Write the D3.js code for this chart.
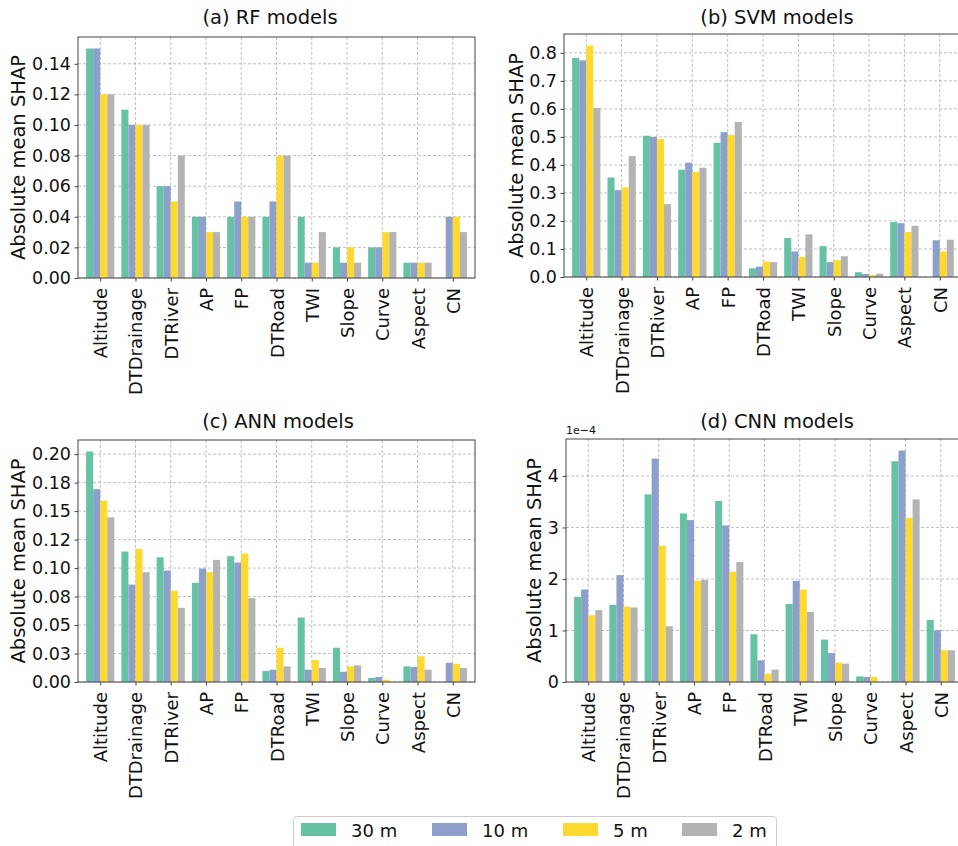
<!DOCTYPE html>
<html>
<head>
<meta charset="utf-8">
<script src="https://cdn.jsdelivr.net/npm/d3@7"></script>
<style>
  body { margin: 0; background: #fff; }
  text { font-family: "DejaVu Sans", sans-serif; fill: #111; }
</style>
</head>
<body>
<div id="chart"></div>
<script>
// categories and series
const features = ["Altitude", "DTDrainage", "DTRiver", "AP", "FP", "DTRoad", "TWI", "Slope", "Curve", "Aspect", "CN"];
const resolutions = ["30 m", "10 m", "5 m", "2 m"];
const colors = ["#66c2a5", "#8da0cb", "#ffd92f", "#b3b3b3"];

// absolute mean SHAP, one row per resolution (30, 10, 5, 2 m)
const rfShap = [
  [0.15, 0.11, 0.06, 0.04, 0.04, 0.04, 0.04, 0.02, 0.02, 0.01, 0.00],
  [0.15, 0.10, 0.06, 0.04, 0.05, 0.05, 0.01, 0.01, 0.02, 0.01, 0.04],
  [0.12, 0.10, 0.05, 0.03, 0.04, 0.08, 0.01, 0.02, 0.03, 0.01, 0.04],
  [0.12, 0.10, 0.08, 0.03, 0.04, 0.08, 0.03, 0.01, 0.03, 0.01, 0.03]
];
const svmShap = [
  [0.782, 0.355, 0.504, 0.383, 0.479, 0.031, 0.139, 0.110, 0.017, 0.196, 0.000],
  [0.773, 0.310, 0.500, 0.408, 0.517, 0.037, 0.091, 0.053, 0.011, 0.192, 0.131],
  [0.826, 0.320, 0.492, 0.375, 0.507, 0.055, 0.072, 0.060, 0.007, 0.161, 0.091],
  [0.603, 0.432, 0.260, 0.390, 0.553, 0.053, 0.152, 0.074, 0.012, 0.183, 0.133]
];
const annShap = [
  [0.2023, 0.1145, 0.1095, 0.0870, 0.1104, 0.0096, 0.0566, 0.0301, 0.0035, 0.0137, 0.0000],
  [0.1693, 0.0855, 0.0978, 0.0996, 0.1048, 0.0108, 0.0108, 0.0090, 0.0044, 0.0131, 0.0169],
  [0.1591, 0.1168, 0.0800, 0.0964, 0.1127, 0.0301, 0.0193, 0.0137, 0.0020, 0.0225, 0.0160],
  [0.1445, 0.0964, 0.0651, 0.1072, 0.0736, 0.0137, 0.0123, 0.0146, 0.0000, 0.0108, 0.0123]
];
// CNN values in units of 1e-4
const cnnShap = [
  [1.653, 1.498, 3.643, 3.274, 3.514, 0.927, 1.517, 0.823, 0.110, 4.285, 1.206],
  [1.796, 2.075, 4.337, 3.144, 3.040, 0.421, 1.964, 0.564, 0.097, 4.493, 1.005],
  [1.297, 1.465, 2.645, 1.964, 2.139, 0.162, 1.796, 0.376, 0.097, 3.183, 0.616],
  [1.394, 1.446, 1.083, 1.984, 2.327, 0.240, 1.361, 0.357, 0.000, 3.546, 0.616]
];

// y tick values and labels
const rfTicks = [0, 0.02, 0.04, 0.06, 0.08, 0.10, 0.12, 0.14];
const rfTickLabels = ["0.00", "0.02", "0.04", "0.06", "0.08", "0.10", "0.12", "0.14"];
const svmTicks = [0, 0.1, 0.2, 0.3, 0.4, 0.5, 0.6, 0.7, 0.8];
const svmTickLabels = ["0.0", "0.1", "0.2", "0.3", "0.4", "0.5", "0.6", "0.7", "0.8"];
const annTicks = [0, 0.025, 0.05, 0.075, 0.1, 0.125, 0.15, 0.175, 0.2];
const annTickLabels = ["0.00", "0.03", "0.05", "0.08", "0.10", "0.12", "0.15", "0.18", "0.20"];
const cnnTicks = [0, 1, 2, 3, 4];
const cnnTickLabels = ["0", "1", "2", "3", "4"];

const width = 958, height = 846;

const svg = d3.select("#chart")
  .append("svg")
    .attr("width", width)
    .attr("height", height);

// panel placement
const panels = [
  {title: "(a) RF models", data: rfShap, ticks: rfTicks, labels: rfTickLabels,
   left: 78, top: 37, right: 475, bottom: 278, titleX: 270, titleY: 24, labelX: 18},
  {title: "(b) SVM models", data: svmShap, ticks: svmTicks, labels: svmTickLabels,
   left: 564, top: 34, right: 962, bottom: 277, titleX: 777, titleY: 24, labelX: 516},
  {title: "(c) ANN models", data: annShap, ticks: annTicks, labels: annTickLabels,
   left: 78, top: 440, right: 475, bottom: 682, titleX: 278, titleY: 428, labelX: 18},
  {title: "(d) CNN models", data: cnnShap, ticks: cnnTicks, labels: cnnTickLabels,
   left: 566, top: 439, right: 963, bottom: 682, titleX: 777, titleY: 428, labelX: 534, offset: "1e\u22124"}
];

const barW = 0.2;

panels.forEach(function(p) {
  const g = svg.append("g");
  const maxVal = d3.max(p.data.flat());

  const x = d3.scaleLinear()
    .domain([-0.63, features.length - 1 + 0.63])
    .range([p.left, p.right]);
  const y = d3.scaleLinear()
    .domain([0, maxVal * 1.05])
    .range([p.bottom, p.top]);

  // grid
  g.append("g").selectAll("line.gy")
    .data(p.ticks)
    .join("line")
      .attr("x1", p.left).attr("x2", p.right)
      .attr("y1", d => y(d)).attr("y2", d => y(d))
      .attr("stroke", "#b0b0b0").attr("stroke-width", 0.8)
      .attr("stroke-dasharray", "3,2");
  g.append("g").selectAll("line.gx")
    .data(features.map((f, i) => i))
    .join("line")
      .attr("x1", d => x(d)).attr("x2", d => x(d))
      .attr("y1", p.top).attr("y2", p.bottom)
      .attr("stroke", "#b0b0b0").attr("stroke-width", 0.8)
      .attr("stroke-dasharray", "3,2");

  // bars
  for (let s = 0; s < resolutions.length; s++) {
    g.append("g").selectAll("rect")
      .data(p.data[s])
      .join("rect")
        .attr("x", (d, i) => x(i + (s - 2) * barW))
        .attr("width", x(barW) - x(0))
        .attr("y", d => y(d))
        .attr("height", d => y(0) - y(d))
        .attr("fill", colors[s]);
  }

  // frame
  g.append("rect")
    .attr("x", p.left).attr("y", p.top)
    .attr("width", p.right - p.left).attr("height", p.bottom - p.top)
    .attr("fill", "none").attr("stroke", "#444").attr("stroke-width", 1);

  // y axis
  const yAxis = g.append("g")
    .attr("transform", "translate(" + p.left + ",0)")
    .call(d3.axisLeft(y).tickValues(p.ticks).tickSize(3.5).tickPadding(3.5)
      .tickFormat((d, i) => p.labels[i]));
  yAxis.select(".domain").remove();
  yAxis.selectAll("line").attr("stroke", "#444");
  yAxis.selectAll("text").style("font-size", "17.5px").attr("fill", "#111");

  // x axis
  const xAxis = g.append("g")
    .attr("transform", "translate(0," + p.bottom + ")")
    .call(d3.axisBottom(x).tickValues(features.map((f, i) => i)).tickSize(3.5)
      .tickFormat((d) => features[d]));
  xAxis.select(".domain").remove();
  xAxis.selectAll("line").attr("stroke", "#444");
  xAxis.selectAll("text")
    .style("font-size", "18px")
    .attr("fill", "#111")
    .attr("text-anchor", "end")
    .attr("dy", null)
    .attr("y", 0)
    .attr("transform", "translate(6.5,10) rotate(-90)");

  // title
  g.append("text")
    .attr("x", p.titleX).attr("y", p.titleY)
    .attr("text-anchor", "middle")
    .style("font-size", "19.5px")
    .text(p.title);

  // y label
  g.append("text")
    .attr("transform", "translate(" + (p.labelX + 7) + "," + ((p.top + p.bottom) / 2) + ") rotate(-90)")
    .attr("text-anchor", "middle")
    .style("font-size", "19.5px")
    .text("Absolute mean SHAP");

  if (p.offset) {
    g.append("text")
      .attr("x", p.left).attr("y", p.top - 5)
      .style("font-size", "11px")
      .text(p.offset);
  }
});

// legend
const legend = svg.append("g");
legend.append("rect")
  .attr("x", 293.5).attr("y", 816.5)
  .attr("width", 483).attr("height", 40)
  .attr("rx", 3)
  .attr("fill", "#fff").attr("stroke", "#ccc");

const legendX = [301, 432, 563, 682];
resolutions.forEach(function(r, i) {
  legend.append("rect")
    .attr("x", legendX[i]).attr("y", 823)
    .attr("width", 35).attr("height", 13)
    .attr("fill", colors[i]);
  legend.append("text")
    .attr("x", legendX[i] + 50).attr("y", 837)
    .style("font-size", "18px")
    .text(r);
});
</script>
</body>
</html>
